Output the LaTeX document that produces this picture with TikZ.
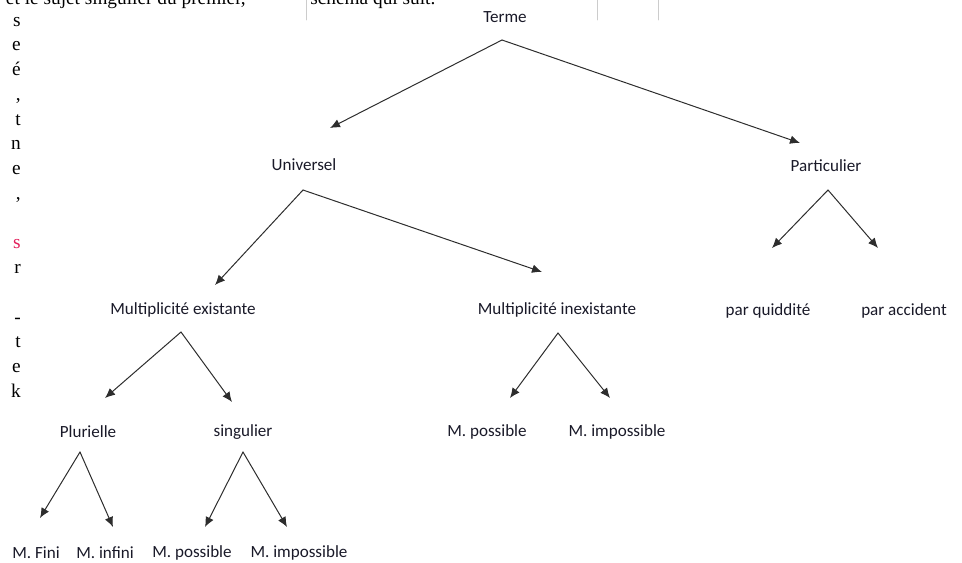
\documentclass[tikz,border=0pt]{standalone}
\usepackage{fontspec}
\setmainfont{Carlito}
\newfontfamily\bookfont{Liberation Serif}
\usetikzlibrary{calc,arrows.meta}
\definecolor{inkline}{RGB}{45,45,45}
\definecolor{inktext}{RGB}{25,25,40}
\definecolor{linkred}{RGB}{226,30,90}
\tikzset{
  term/.style={font=\fontsize{12.8}{15}\selectfont, text=inktext, inner sep=0pt},
  page/.style={font=\bookfont\fontsize{14.5}{17}\selectfont, inner sep=0pt, anchor=base east},
  branch/.style={->, draw=inkline, line width=0.75pt}
}
\begin{document}
\begin{tikzpicture}[x=0.75pt, y=-0.75pt, line join=round, line cap=round, >={Latex[length=7.5pt,width=6.5pt]}]
\useasboundingbox (0,0) rectangle (962,562);
% bits of the page behind the schema
\begin{scope}
\clip (0,0) rectangle (962,562);
\node[page] (top1) at (246,4) {moindre, et le sujet singulier du premier,};
\node[page, anchor=base west] (top2) at (310,4) {schéma qui suit.};
\draw[black!20, line width=0.5pt] (306,0) -- (306,20) (597,0) -- (597,20) (658,0) -- (658,20);
\foreach \c [count=\i] in {s,e,é,{,},t,n,e,{,},{},{\color{linkred}s},r,{},-,t,e,k}
  \node[page] (col\i) at (21,{26+24.75*(\i-1)}) {\c};
\end{scope}
% the schema
\node[term] (terme) at (505,17) {Terme};
\node[term] (univ) at (304,165) {Universel};
\node[term] (part) at (826,166) {Particulier};
\node[term] (mex) at (183,310) {Multiplicité existante};
\node[term] (minex) at (557,310) {Multiplicité inexistante};
\node[term] (quid) at (768,311) {par quiddité};
\node[term] (acc) at (904,311) {par accident};
\node[term] (plur) at (88,432) {Plurielle};
\node[term] (sing) at (243,432) {singulier};
\node[term] (mposa) at (487,432) {M. possible};
\node[term] (mimpa) at (617,432) {M. impossible};
\node[term] (mfini) at (36,553) {M. Fini};
\node[term] (minf) at (105,553) {M. infini};
\node[term] (mposb) at (192,553) {M. possible};
\node[term] (mimpb) at (299,553) {M. impossible};
\draw[branch] ($(terme)+(-3,23)$) -- ($(univ)+(26,-37)$);
\draw[branch] ($(terme)+(-3,23)$) -- ($(part)+(-26,-23)$);
\draw[branch] ($(univ)+(-1,25)$) -- ($(mex)+(32,-25)$);
\draw[branch] ($(univ)+(-1,25)$) -- ($(minex)+(-15,-38)$);
\draw[branch] ($(part)+(2,24)$) -- ($(quid)+(4,-63)$);
\draw[branch] ($(part)+(2,24)$) -- ($(acc)+(-26,-63)$);
\draw[branch] ($(mex)+(-2,22)$) -- ($(plur)+(17,-34)$);
\draw[branch] ($(mex)+(-2,22)$) -- ($(sing)+(-11,-30)$);
\draw[branch] ($(minex)+(1,23)$) -- ($(mposa)+(23,-34)$);
\draw[branch] ($(minex)+(1,23)$) -- ($(mimpa)+(-7,-34)$);
\draw[branch] ($(plur)+(-8,20)$) -- ($(mfini)+(4,-35)$);
\draw[branch] ($(plur)+(-8,20)$) -- ($(minf)+(8,-26)$);
\draw[branch] ($(sing)+(0,20)$) -- ($(mposb)+(13,-26)$);
\draw[branch] ($(sing)+(0,20)$) -- ($(mimpb)+(-12,-26)$);
\end{tikzpicture}
\end{document}
